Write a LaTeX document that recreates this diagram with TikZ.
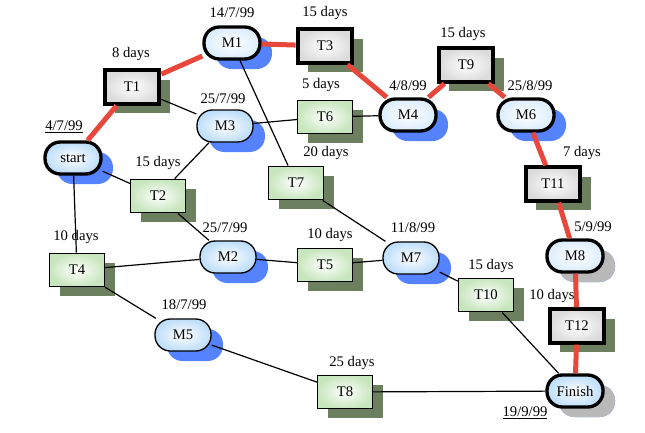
\documentclass[tikz,border=0pt]{standalone}
\usepackage{fontspec}
\setmainfont{Liberation Serif}
\usepackage{xcolor}
\usepackage{tikz}
\usetikzlibrary{shadows}
\definecolor{critred}{RGB}{232,72,60}
\definecolor{shadeblue}{RGB}{85,130,255}
\definecolor{shadegreen}{RGB}{108,128,95}
\definecolor{shadegray}{RGB}{185,185,185}
\definecolor{paleblue}{RGB}{190,222,250}
\definecolor{palegreen}{RGB}{200,230,190}

\begin{document}
\begin{tikzpicture}[x=0.75pt,y=-0.75pt,font=\fontsize{11}{13}\selectfont]
  \tikzstyle{mile}=[rectangle,rounded corners=11.5pt,draw,line width=1pt,minimum width=42pt,minimum height=24pt,inner color=white,outer color=paleblue,drop shadow={shadow xshift=9pt,shadow yshift=-7.5pt,fill=shadeblue,opacity=1}]
  \tikzstyle{critmile}=[mile,line width=2.5pt]
  \tikzstyle{checkmile}=[critmile,outer color=paleblue!55]
  \tikzstyle{task}=[rectangle,draw,line width=1.1pt,minimum width=41pt,minimum height=25pt,inner color=white,outer color=palegreen,drop shadow={shadow xshift=8pt,shadow yshift=-7pt,fill=shadegreen,opacity=1}]
  \tikzstyle{crittask}=[task,line width=3pt,outer color=gray!28]
  \tikzstyle{graysh}=[drop shadow={shadow xshift=9pt,shadow yshift=-7.5pt,fill=shadegray,opacity=1}]
  \tikzstyle{crit}=[line width=3.75pt,critred]
  \tikzstyle{link}=[line width=0.9pt]
  \useasboundingbox (0,0) rectangle (645,432);

  \node[critmile] (start) at (73,158) {start};
  \node[crittask] (T1) at (132,87) {T1};
  \node[checkmile] (M1) at (232,43) {M1};
  \node[crittask] (T3) at (325,46) {T3};
  \node[mile] (M3) at (225,126) {M3};
  \node[task] (T6) at (325,117) {T6};
  \node[task] (T2) at (158,196) {T2};
  \node[task] (T7) at (296,183) {T7};
  \node[checkmile] (M4) at (408,115) {M4};
  \node[crittask] (T9) at (466,65) {T9};
  \node[checkmile] (M6) at (526,115) {M6};
  \node[crittask] (T11) at (553,184) {T11};
  \node[task] (T4) at (77,270) {T4};
  \node[mile] (M2) at (228,257) {M2};
  \node[task] (T5) at (325,265) {T5};
  \node[mile] (M5) at (183,335) {M5};
  \node[mile] (M7) at (411,258) {M7};
  \node[task] (T10) at (486,295) {T10};
  \node[checkmile,graysh] (M8) at (575,256) {M8};
  \node[crittask] (T12) at (577,326) {T12};
  \node[critmile,graysh] (fin) at (575,391) {Finish};
  \node[task] (T8) at (345,392) {T8};

  \node (dStart) at (64,127) {\underline{4/7/99}};
  \node (dT1) at (131,54) {8 days};
  \node (dM1) at (232,13) {14/7/99};
  \node (dT3) at (325,13) {15 days};
  \node (dM3) at (223,99) {25/7/99};
  \node (dT6) at (321,85) {5 days};
  \node (dT2) at (158,163) {15 days};
  \node (dT7) at (326,153) {20 days};
  \node (dM4) at (408,86) {4/8/99};
  \node (dT9) at (463,34) {15 days};
  \node (dM6) at (530,86) {25/8/99};
  \node (dT11) at (582,153) {7 days};
  \node (dT4) at (76,237) {10 days};
  \node (dM2) at (225,228) {25/7/99};
  \node (dT5) at (330,235) {10 days};
  \node (dM5) at (184,305) {18/7/99};
  \node (dM7) at (413,228) {11/8/99};
  \node (dT10) at (491,266) {15 days};
  \node (dM8) at (593,227) {5/9/99};
  \node (dT12) at (552,296) {10 days};
  \node (dT8) at (352,363) {25 days};
  \node (dFin) at (525,413) {\underline{19/9/99}};

  \draw[link] (T1) -- (M3);
  \draw[link] (start) -- (T2);
  \draw[link] (start) -- (T4);
  \draw[link] (M3) -- (T6);
  \draw[link] (M3) -- (T2);
  \draw[link] (M1) -- (T7);
  \draw[link] (T6) -- (M4);
  \draw[link] (T2) -- (M2);
  \draw[link] (T4) -- (M2);
  \draw[link] (T4) -- (M5);
  \draw[link] (M5) -- (T8);
  \draw[link] (M2) -- (T5);
  \draw[link] (T5) -- (M7);
  \draw[link] (T7) -- (M7);
  \draw[link] (M7) -- (T10);
  \draw[link] (T10) -- (fin);
  \draw[link] (T8) -- (fin);

  \draw[crit] (start) -- (T1);
  \draw[crit] (T1) -- (M1);
  \draw[crit] (M1) -- (T3);
  \draw[crit] (T3) -- (M4);
  \draw[crit] (M4) -- (T9);
  \draw[crit] (T9) -- (M6);
  \draw[crit] (M6) -- (T11);
  \draw[crit] (T11) -- (M8);
  \draw[crit] (M8) -- (T12);
  \draw[crit] (T12) -- (fin);
\end{tikzpicture}
\end{document}
